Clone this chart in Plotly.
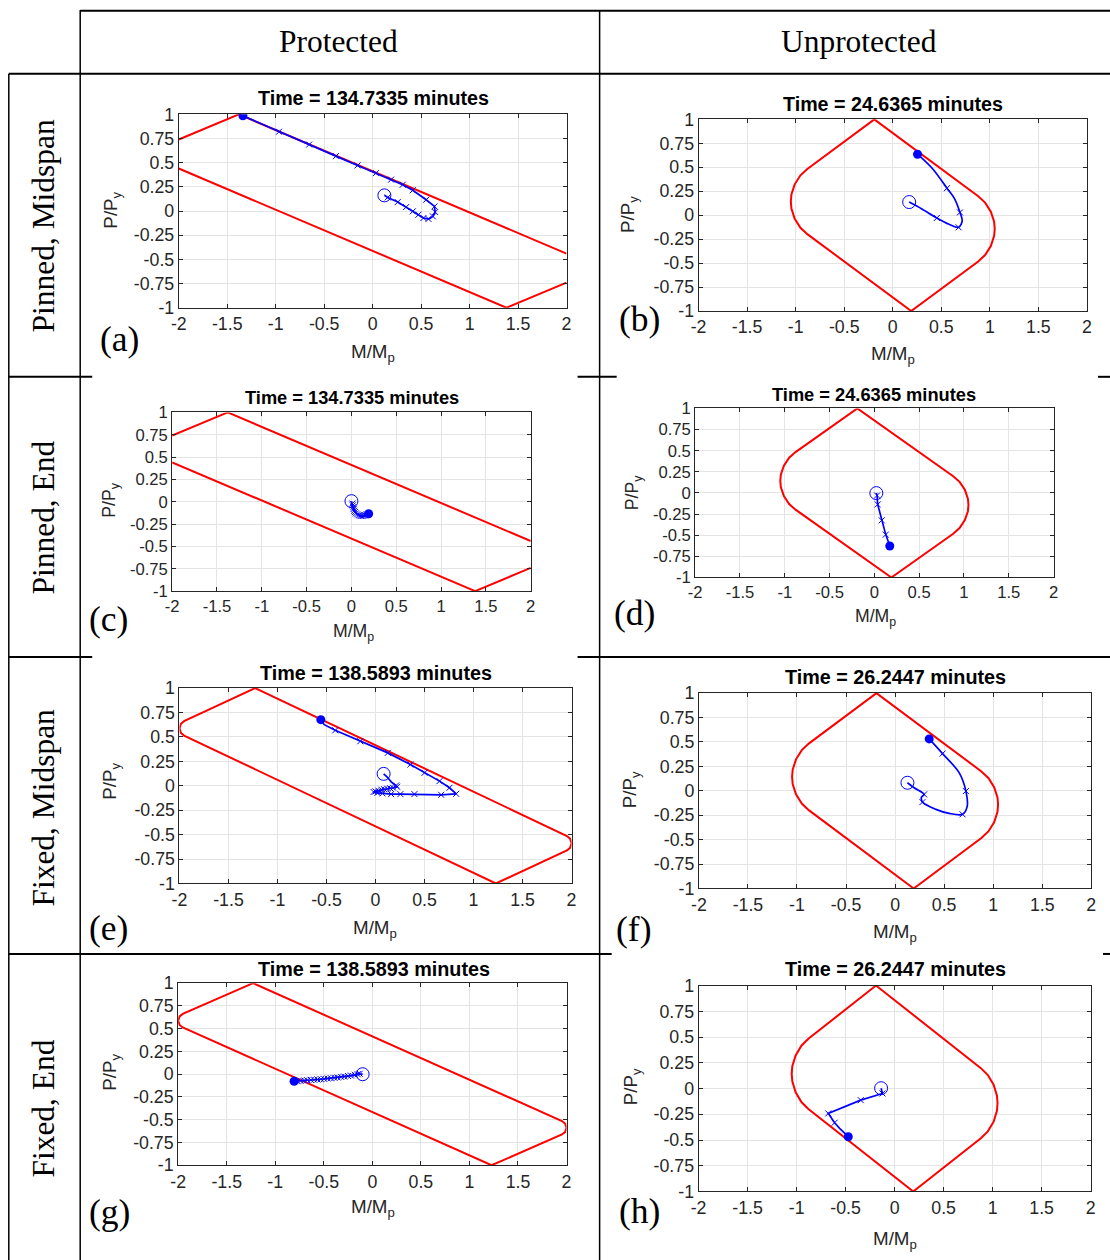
import plotly.graph_objects as go

# ---------------- data ----------------
XTICKS = [-2, -1.5, -1, -0.5, 0, 0.5, 1, 1.5, 2]
XTICK_LABELS = ["-2", "-1.5", "-1", "-0.5", "0", "0.5", "1", "1.5", "2"]
YTICKS = [-1, -0.75, -0.5, -0.25, 0, 0.25, 0.5, 0.75, 1]
YTICK_LABELS = ["-1", "-0.75", "-0.5", "-0.25", "0", "0.25", "0.5", "0.75", "1"]

COL_HEADERS = ["Protected", "Unprotected"]
ROW_HEADERS = ["Pinned, Midspan", "Pinned, End", "Fixed, Midspan", "Fixed, End"]
PANEL_LETTERS = ["(a)", "(b)", "(c)", "(d)", "(e)", "(f)", "(g)", "(h)"]
PANEL_TIMES = [134.7335, 24.6365, 134.7335, 24.6365, 138.5893, 26.2447, 138.5893, 26.2447]

# interaction envelopes (M/Mp, P/Py)
ENV_PROT_PIN_M = [-2.0, -1.38, 2.0, None, -2.0, 1.38, 2.0]
ENV_PROT_PIN_P = [0.74, 1.0, -0.44, None, 0.44, -1.0, -0.74]

ENV_PROT_FIX_M = [-1.228, 1.953, 1.985, 2.0, 1.985, 1.953, 1.228,
                  -1.953, -1.985, -2.0, -1.985, -1.953, -1.228]
ENV_PROT_FIX_P = [1.0, -0.514, -0.541, -0.588, -0.635, -0.662, -1.0,
                  0.514, 0.541, 0.588, 0.635, 0.662, 1.0]

ENV_UNPROT_M = [-0.19, 0.880, 0.951, 1.010, 1.044, 1.050, 1.044, 1.010, 0.951, 0.880, 0.19,
                -0.880, -0.951, -1.010, -1.044, -1.050, -1.044, -1.010, -0.951, -0.880, -0.19]
ENV_UNPROT_P = [1.0, 0.198, 0.131, 0.037, -0.069, -0.1425, -0.216, -0.322, -0.416, -0.483, -1.0,
                -0.198, -0.131, -0.037, 0.069, 0.1425, 0.216, 0.322, 0.416, 0.483, 1.0]

# trajectories: path (line) and x-markers
A_PATH_M = [0.121, 0.155, 0.259, 0.345, 0.414, 0.472, 0.524, 0.576, 0.621, 0.645, 0.638, 0.552,
            0.414, 0.31, 0.19, 0.034, -0.155, -0.379, -0.655, -0.966, -1.338]
A_PATH_P = [0.162, 0.141, 0.093, 0.041, -0.003, -0.038, -0.072, -0.082, -0.055, -0.01, 0.048, 0.117,
            0.215, 0.272, 0.325, 0.392, 0.472, 0.568, 0.688, 0.82, 0.985]
A_MARK_M = A_PATH_M[1:-1]
A_MARK_P = A_PATH_P[1:-1]

B_PATH_M = [0.169, 0.30, 0.454, 0.58, 0.678, 0.715, 0.692, 0.633, 0.558, 0.41, 0.255]
B_PATH_P = [0.137, 0.065, -0.029, -0.095, -0.127, -0.06, 0.029, 0.178, 0.282, 0.484, 0.636]
B_MARK_M = [0.454, 0.678, 0.692, 0.558]
B_MARK_P = [-0.029, -0.127, 0.029, 0.282]

C_PATH_M = [0.0, 0.01, 0.015, 0.02, 0.025, 0.03, 0.04, 0.05, 0.065, 0.08, 0.095, 0.11, 0.125, 0.14, 0.155, 0.17, 0.192]
C_PATH_P = [0.007, -0.02, -0.04, -0.06, -0.08, -0.10, -0.115, -0.13, -0.14, -0.15, -0.155, -0.16, -0.16, -0.155, -0.15, -0.14, -0.134]
C_MARK_M = C_PATH_M[1:-1]
C_MARK_P = C_PATH_P[1:-1]

D_PATH_M = [0.022, 0.03, 0.037, 0.06, 0.082, 0.105, 0.127, 0.15, 0.172]
D_PATH_P = [-0.002, -0.03, -0.136, -0.23, -0.324, -0.41, -0.493, -0.56, -0.627]
D_MARK_M = [0.03, 0.037, 0.082, 0.127]
D_MARK_P = [-0.03, -0.136, -0.324, -0.493]

E_PATH_M = [0.083, 0.12, 0.16, 0.21, 0.22, 0.18, 0.15, 0.12, 0.09, 0.06, 0.03, 0.0, -0.02, 0.02, 0.07,
            0.159, 0.254, 0.397, 0.67, 0.823, 0.755, 0.653, 0.5, 0.356, 0.125, -0.155, -0.411, -0.523, -0.558]
E_PATH_P = [0.122, 0.09, 0.04, 0.003, -0.01, -0.02, -0.025, -0.03, -0.035, -0.04, -0.05, -0.058, -0.063, -0.072, -0.078,
            -0.085, -0.085, -0.085, -0.092, -0.082, -0.02, 0.048, 0.133, 0.218, 0.337, 0.456, 0.568, 0.626, 0.677]
E_MARK_M = E_PATH_M[3:-2]
E_MARK_P = E_PATH_P[3:-2]

F_PATH_M = [0.126, 0.194, 0.296, 0.27, 0.279, 0.416, 0.552, 0.688, 0.735, 0.722, 0.654, 0.484, 0.348]
F_PATH_P = [0.082, 0.031, -0.037, -0.065, -0.116, -0.19, -0.231, -0.241, -0.16, -0.003, 0.184, 0.381, 0.531]
F_MARK_M = [0.296, 0.279, 0.688, 0.722, 0.484]
F_MARK_P = [-0.037, -0.116, -0.241, -0.003, 0.381]

G_PATH_M = [-0.10, -0.151, -0.22, -0.289, -0.358, -0.427, -0.496, -0.565, -0.633, -0.702, -0.771, -0.806]
G_PATH_P = [0.0, 0.0, -0.015, -0.026, -0.036, -0.044, -0.051, -0.058, -0.062, -0.069, -0.077, -0.077]
G_MARK_M = [-0.13, -0.151, -0.18, -0.22, -0.25, -0.289, -0.32, -0.358, -0.39, -0.427, -0.46, -0.496,
            -0.53, -0.565, -0.6, -0.633, -0.67, -0.702, -0.74, -0.771]
G_MARK_P = [0.005, 0.0, -0.006, -0.015, -0.02, -0.026, -0.03, -0.036, -0.04, -0.044, -0.047, -0.051,
            -0.055, -0.058, -0.06, -0.062, -0.066, -0.069, -0.073, -0.077]

H_PATH_M = [-0.138, -0.13, -0.124, -0.346, -0.677, -0.612, -0.561, -0.473]
H_PATH_P = [0.003, -0.02, -0.048, -0.113, -0.242, -0.332, -0.387, -0.468]
H_MARK_M = [-0.124, -0.346, -0.677, -0.612]
H_MARK_P = [-0.048, -0.113, -0.242, -0.332]

# ---------------- layout (reference pixels) ----------------
W, H = 1110, 1260
FRAME = 8                      # photographed page sits inside an 8px frame
SPAN_X, SPAN_Y = W - 2 * FRAME, H - 2 * FRAME
K = W / SPAN_X                 # compensate the slight shrink for sizes
BLUE = "rgb(0,0,255)"
RED = "rgb(255,0,0)"
AXC = "#262626"
SANS = "Liberation Sans"
SERIF = "Liberation Serif"

# left, right, top, bottom, title(cx,cy,size), xlabel(cx,cy), ylabel(cx,cy), ticksize, letter(cx,cy)
BOXES = [
    (178.3, 565.0, 112.7, 306.7, (372.5, 96.7, 19.4), (372, 352), (112, 209), 17.5, (119, 338)),
    (696.7, 1084.0, 117.7, 310.0, (890.5, 102.3, 19.4), (891, 354), (628, 213), 17.5, (638, 318)),
    (171.7, 529.3, 411.7, 591.0, (351.3, 396.7, 18), (353, 633), (110, 500), 16.4, (108, 619)),
    (693.3, 1050.7, 407.7, 577.3, (872.0, 394.0, 18), (873, 617), (632, 492), 16.4, (633, 613)),
    (179.0, 570.0, 688.3, 884.3, (375.0, 673.3, 19.5), (374, 930), (110, 782), 17.5, (108, 929)),
    (697.0, 1088.3, 693.3, 889.3, (893.3, 677.3, 19.5), (893, 934), (630, 790), 17.5, (632, 930)),
    (177.7, 565.0, 984.3, 1167.0, (372.8, 970.0, 19.5), (372, 1210), (110, 1074), 17.5, (109, 1214)),
    (696.7, 1087.7, 986.7, 1193.3, (892.7, 970.0, 19.5), (893, 1242), (630, 1088), 17.5, (638, 1213)),
]

ENVS = [
    (ENV_PROT_PIN_M, ENV_PROT_PIN_P), (ENV_UNPROT_M, ENV_UNPROT_P),
    (ENV_PROT_PIN_M, ENV_PROT_PIN_P), (ENV_UNPROT_M, ENV_UNPROT_P),
    (ENV_PROT_FIX_M, ENV_PROT_FIX_P), (ENV_UNPROT_M, ENV_UNPROT_P),
    (ENV_PROT_FIX_M, ENV_PROT_FIX_P), (ENV_UNPROT_M, ENV_UNPROT_P),
]
PATHS = [
    (A_PATH_M, A_PATH_P, A_MARK_M, A_MARK_P, "linear"),
    (B_PATH_M, B_PATH_P, B_MARK_M, B_MARK_P, "spline"),
    (C_PATH_M, C_PATH_P, C_MARK_M, C_MARK_P, "linear"),
    (D_PATH_M, D_PATH_P, D_MARK_M, D_MARK_P, "linear"),
    (E_PATH_M, E_PATH_P, E_MARK_M, E_MARK_P, "linear"),
    (F_PATH_M, F_PATH_P, F_MARK_M, F_MARK_P, "spline"),
    (G_PATH_M, G_PATH_P, G_MARK_M, G_MARK_P, "linear"),
    (H_PATH_M, H_PATH_P, H_MARK_M, H_MARK_P, "linear"),
]


def fx(p):
    return (p - FRAME) / SPAN_X


def fy(p):
    return 1 - (p - FRAME) / SPAN_Y


fig = go.Figure()
annotations = []
shapes = []
layout_axes = {}

for i, box in enumerate(BOXES):
    n = i + 1
    xs = "x" if n == 1 else f"x{n}"
    ys = "y" if n == 1 else f"y{n}"
    xk = "xaxis" if n == 1 else f"xaxis{n}"
    yk = "yaxis" if n == 1 else f"yaxis{n}"
    L, R, T, B, title, xl, yl, ts, let = box

    em, ep = ENVS[i]
    fig.add_trace(go.Scatter(x=em, y=ep, xaxis=xs, yaxis=ys, mode="lines",
                             line=dict(color=RED, width=2), hoverinfo="skip", showlegend=False))
    pm, pp, mm, mp, shape = PATHS[i]
    fig.add_trace(go.Scatter(x=pm, y=pp, xaxis=xs, yaxis=ys, mode="lines",
                             line=dict(color=BLUE, width=1.7, shape=shape, smoothing=0.9),
                             hoverinfo="skip", showlegend=False))
    fig.add_trace(go.Scatter(x=mm, y=mp, xaxis=xs, yaxis=ys, mode="markers",
                             marker=dict(symbol="x-thin", size=6, color=BLUE,
                                         line=dict(color=BLUE, width=1)),
                             hoverinfo="skip", showlegend=False))
    fig.add_trace(go.Scatter(x=[pm[0]], y=[pp[0]], xaxis=xs, yaxis=ys, mode="markers",
                             marker=dict(symbol="circle-open", size=13, color=BLUE,
                                         line=dict(color=BLUE, width=1)),
                             hoverinfo="skip", showlegend=False))
    fig.add_trace(go.Scatter(x=[pm[-1]], y=[pp[-1]], xaxis=xs, yaxis=ys, mode="markers",
                             marker=dict(symbol="circle", size=9, color=BLUE),
                             hoverinfo="skip", showlegend=False))

    common = dict(showline=True, linecolor=AXC, linewidth=1, mirror="ticks",
                  ticks="inside", ticklen=4, tickcolor=AXC, tickwidth=1,
                  showgrid=True, gridcolor="#e4e4e4", gridwidth=1, zeroline=False,
                  tickfont=dict(family=SANS, size=ts * K, color=AXC), fixedrange=True)
    layout_axes[xk] = dict(domain=[fx(L), fx(R)], range=[-2, 2], tickvals=XTICKS,
                           ticktext=XTICK_LABELS, anchor=ys, **common)
    layout_axes[yk] = dict(domain=[fy(B), fy(T)], range=[-1, 1], tickvals=YTICKS,
                           ticktext=YTICK_LABELS, anchor=xs, **common)

    annotations.append(dict(x=fx(title[0]), y=fy(title[1]), xref="paper", yref="paper",
                            text=f"<b>Time = {PANEL_TIMES[i]:.4f} minutes</b>", showarrow=False,
                            xanchor="center", yanchor="middle",
                            font=dict(family=SANS, size=title[2] * K, color="black")))
    annotations.append(dict(x=fx(xl[0]), y=fy(xl[1]), xref="paper", yref="paper",
                            text="M/M<sub>p</sub>", showarrow=False, xanchor="center", yanchor="middle",
                            font=dict(family=SANS, size=(ts + 1) * K, color=AXC)))
    annotations.append(dict(x=fx(yl[0]), y=fy(yl[1]), xref="paper", yref="paper",
                            text="P/P<sub>y</sub>", showarrow=False, xanchor="center", yanchor="middle",
                            textangle=-90, font=dict(family=SANS, size=(ts + 1) * K, color=AXC)))
    annotations.append(dict(x=fx(let[0]), y=fy(let[1]), xref="paper", yref="paper",
                            text=PANEL_LETTERS[i], showarrow=False, xanchor="center", yanchor="middle",
                            font=dict(family=SERIF, size=35 * K, color="black")))

# table headers
for txt, cx in zip(COL_HEADERS, [338, 857]):
    annotations.append(dict(x=fx(cx), y=fy(40), xref="paper", yref="paper", text=txt,
                            showarrow=False, xanchor="center", yanchor="middle",
                            font=dict(family=SERIF, size=31 * K, color="black")))
for txt, cy in zip(ROW_HEADERS, [225, 517, 808, 1110]):
    annotations.append(dict(x=fx(43), y=fy(cy), xref="paper", yref="paper", text=txt,
                            showarrow=False, xanchor="center", yanchor="middle", textangle=-90,
                            font=dict(family=SERIF, size=31 * K, color="black")))


def hline(y, x0, x1, w=2):
    shapes.append(dict(type="line", xref="paper", yref="paper", x0=fx(x0), x1=fx(x1),
                       y0=fy(y), y1=fy(y), line=dict(color="black", width=w)))


def vline(x, y0, y1, w=1.5):
    shapes.append(dict(type="line", xref="paper", yref="paper", x0=fx(x), x1=fx(x),
                       y0=fy(y0), y1=fy(y1), line=dict(color="black", width=w)))


hline(8.8, 80, 1120)
hline(72, 8.8, 1120)
hline(376, 8.8, 92)
hline(376, 576, 615)
hline(376, 1095, 1120)
hline(657, 8.8, 92)
hline(657, 576, 1120)
hline(955, 8.8, 610)
hline(955, 1100, 1120)
vline(8.8, 72, 1270)
vline(80, 8, 1270)
vline(598, 8, 1270)

fig.update_layout(width=W, height=H, margin=dict(l=0, r=0, t=0, b=0),
                  paper_bgcolor="white", plot_bgcolor="white", showlegend=False,
                  annotations=annotations, shapes=shapes, **layout_axes)

fig.write_html("out.html", config={"displayModeBar": False},
               post_script="document.body.style.margin='0';document.body.style.padding='0';"
                           "document.documentElement.style.overflow='hidden';"
                           "document.body.style.overflow='hidden';")
